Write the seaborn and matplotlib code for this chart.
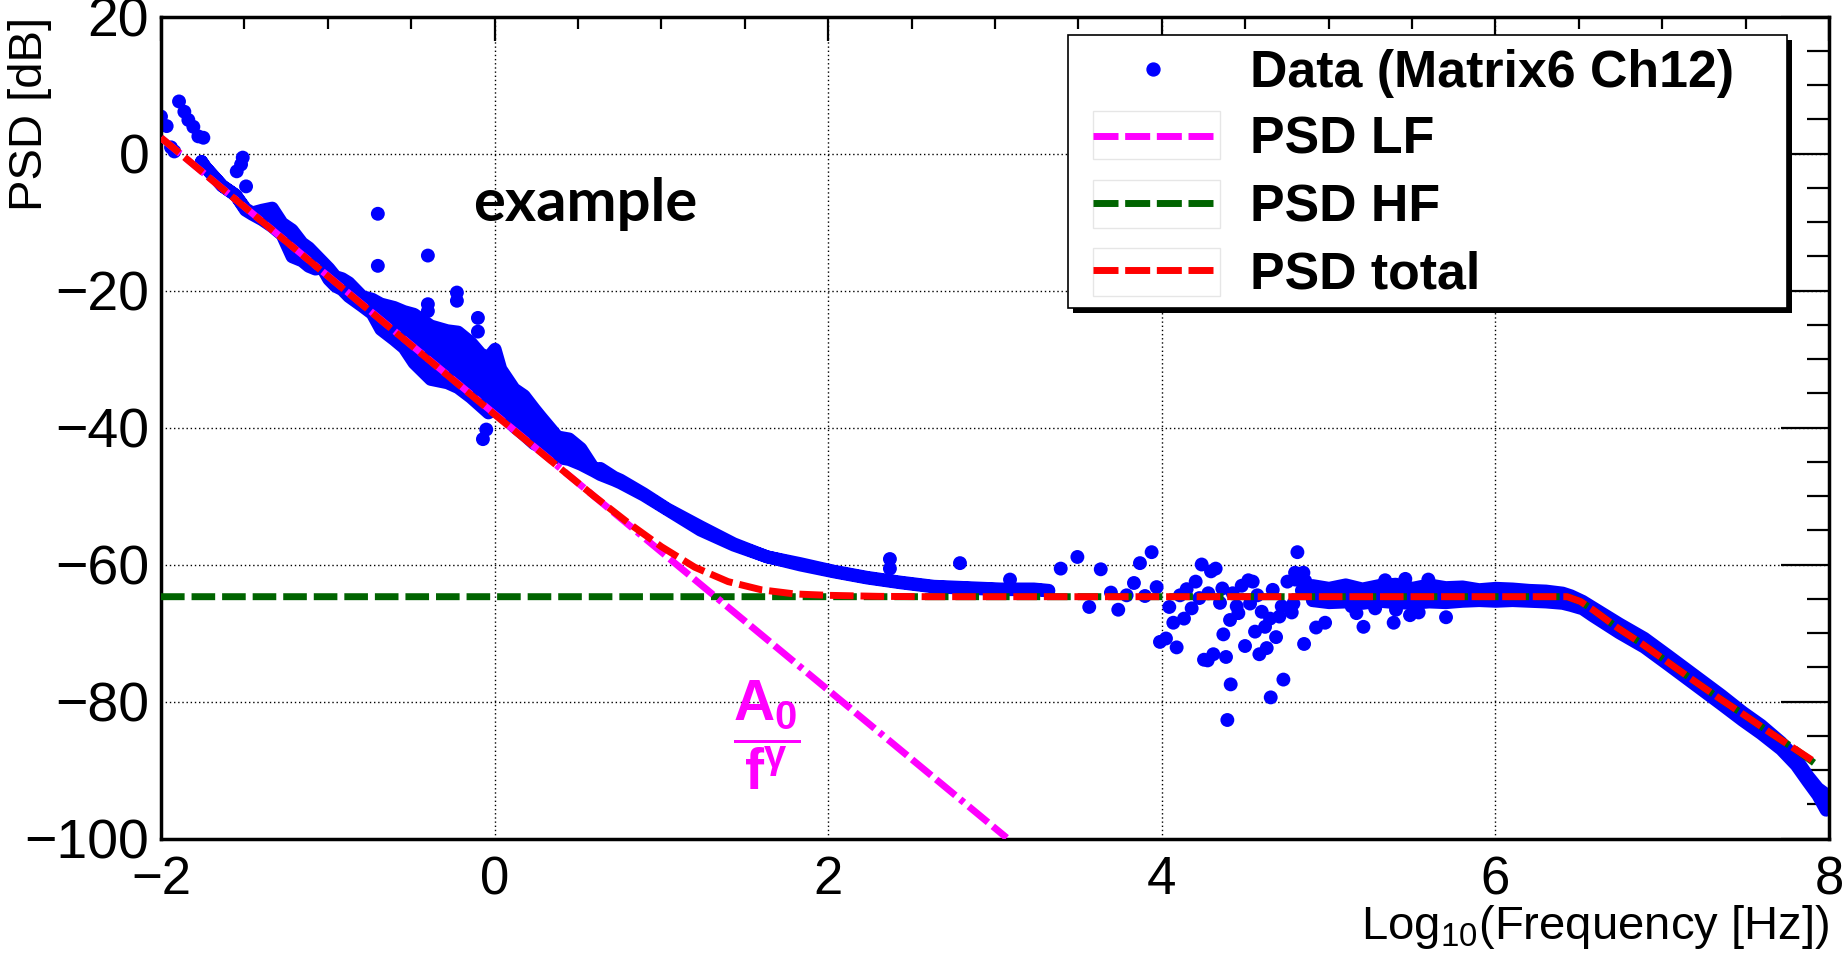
import matplotlib
matplotlib.use("Agg")
import matplotlib.pyplot as plt
import seaborn as sns
from matplotlib.lines import Line2D
from matplotlib.patches import Rectangle
from matplotlib.ticker import MultipleLocator

# ---------------- data ----------------
# Dense run of the spectrum at low frequency (upper / lower envelope of the point cloud)
band1_x = [-1.76, -1.736, -1.636, -1.556, -1.496, -1.456, -1.396, -1.336, -1.277, -1.217,
           -1.157, -1.117, -1.077, -1.037, -0.997, -0.957, -0.917, -0.877, -0.797, -0.737,
           -0.685, -0.605, -0.546, -0.486, -0.386, -0.286, -0.222, -0.146, -0.086, -0.04,
           0.0, 0.034, 0.114, 0.174, 0.234, 0.274, 0.374, 0.444, 0.514, 0.594,
           0.631, 0.714, 0.751, 0.891, 1.031, 1.231, 1.431, 1.630, 1.830, 2.030,
           2.230, 2.430, 2.63, 2.83, 3.03, 3.23, 3.32]
band1_hi = [-1.1, -1.95, -4.65, -6.0, -8.0, -8.6, -8.2, -7.9, -10.1, -11.1,
            -13.0, -13.7, -14.7, -15.7, -16.7, -17.9, -18.2, -18.8, -20.8, -21.2,
            -21.9, -22.4, -23.0, -23.4, -25.1, -25.8, -26.0, -27.5, -29.2, -29.7,
            -28.5, -31.4, -34.3, -35.3, -37.2, -38.4, -41.3, -41.6, -43.0, -46.0,
            -45.9, -47.2, -47.6, -49.6, -51.8, -54.4, -56.9, -58.8, -59.8, -60.9,
            -61.8, -62.5, -63.1, -63.3, -63.5, -63.5, -63.7]
band1_lo = [-1.1, -1.95, -4.65, -6.0, -8.2, -8.8, -9.6, -10.6, -11.8, -15.0,
            -15.6, -16.4, -16.8, -16.6, -18.3, -19.3, -19.8, -20.8, -22.2, -23.3,
            -25.6, -27.1, -28.3, -30.5, -32.9, -33.4, -34.1, -35.5, -36.8, -37.8,
            -37.2, -37.8, -39.8, -41.0, -42.3, -42.8, -44.3, -44.6, -45.3, -46.3,
            -46.8, -47.6, -48.0, -49.8, -51.9, -54.9, -57.1, -58.8, -60.0, -61.0,
            -61.9, -62.6, -63.2, -63.4, -63.6, -63.6, -63.8]

# Dense run at high frequency (plateau and roll-off)
band2_x = [4.90, 5.00, 5.10, 5.20, 5.30, 5.40, 5.50, 5.60, 5.70, 5.80, 5.90, 6.00, 6.10,
           6.20, 6.30, 6.40, 6.45, 6.52, 6.58, 6.74, 6.89, 7.03, 7.19, 7.35, 7.48, 7.59,
           7.71, 7.80, 7.87, 7.93, 7.98]
band2_hi = [-63.0, -63.4, -62.9, -63.5, -63.0, -62.8, -63.4, -62.9, -63.3, -63.2, -63.6,
            -63.4, -63.5, -63.7, -63.8, -64.1, -64.5, -65.3, -66.2, -68.6, -70.7, -73.2,
            -76.1, -79.0, -81.5, -83.4, -85.9, -88.3, -90.8, -92.6, -93.5]
band2_lo = [-65.2, -65.5, -65.4, -65.6, -65.3, -65.5, -65.6, -65.4, -65.5, -65.3, -65.2,
            -65.3, -65.2, -65.3, -65.4, -65.6, -65.9, -66.4, -67.4, -69.9, -72.0, -74.5,
            -77.4, -80.3, -82.7, -84.6, -86.9, -89.2, -91.6, -93.6, -95.8]

# Isolated measurement points
pts_x = [-2.00, -1.966, -1.94, -1.92, -1.892, -1.860, -1.836, -1.806, -1.776, -1.746,
         -1.51, -1.52, -1.546, -1.49, -0.70, -0.70, -0.40, -0.40, -0.40, -0.226,
         -0.226, -0.10, -0.10, -0.07, -0.05, 2.37, 2.37, 2.79, 3.09,
         3.394, 3.494, 3.634, 3.565, 3.695, 3.739, 3.789, 3.833, 3.869, 3.899,
         3.939, 3.969, 3.989, 4.025, 4.045, 4.069, 4.089, 4.109, 4.133, 4.149,
         4.179, 4.203, 4.239, 4.225, 4.253, 4.275, 4.309, 4.295, 4.323, 4.279,
         4.349, 4.363, 4.369, 4.385, 4.393, 4.413, 4.409, 4.425, 4.449, 4.459,
         4.479, 4.499, 4.519, 4.545, 4.529, 4.559, 4.573, 4.585, 4.599, 4.619,
         4.629, 4.653, 4.649, 4.665, 4.685, 4.705, 4.719, 4.729, 4.753, 4.779,
         4.789, 4.799, 4.813, 4.849, 4.853, 4.909, 4.925, 4.979,
         4.80, 4.82, 4.86, 4.84, 4.87,
         5.138, 5.167, 5.209, 5.279, 5.39, 5.404, 5.488, 5.54, 5.704, 5.339, 5.46, 5.598]
pts_y = [5.4, 4.0, 0.9, 0.3, 7.6, 6.1, 4.9, 3.9, 2.5, 2.3,
         -0.6, -1.6, -2.6, -4.8, -8.8, -16.4, -14.9, -22.0, -23.0, -20.3,
         -21.5, -24.0, -26.0, -41.7, -40.3, -59.2, -60.6, -59.8, -62.2,
         -60.6, -58.9, -60.7, -66.2, -64.1, -66.6, -64.5, -62.7, -59.8, -64.6,
         -58.2, -63.3, -71.3, -70.8, -66.2, -68.5, -72.1, -64.5, -67.9, -63.6,
         -66.4, -62.5, -60.0, -64.9, -73.9, -74.0, -73.1, -61.0, -60.6, -64.2,
         -65.6, -63.5, -70.2, -73.5, -82.7, -77.5, -68.1, -64.2, -66.1, -67.1,
         -63.1, -71.9, -62.3, -62.5, -65.7, -69.8, -64.5, -73.1, -66.9, -69.1,
         -72.2, -79.4, -67.9, -63.7, -70.6, -67.6, -66.1, -76.8, -62.5, -67.0,
         -65.7, -61.2, -58.2, -61.2, -71.6, -65.2, -69.2, -68.5,
         -62.2, -61.8, -62.4, -63.8, -64.2,
         -66.1, -67.1, -69.1, -66.4, -68.5, -66.6, -67.4, -67.0, -67.7, -62.3, -62.1, -62.2]

# Fitted components
lf_x = [-2.0, 3.07]
lf_y = [2.3, -99.9]
hf_x = [-2.0, 6.43, 6.51, 6.59, 6.73, 6.88, 7.03, 7.18, 7.34, 7.50, 7.65, 7.80, 7.93]
hf_y = [-64.7, -64.7, -65.4, -66.7, -69.2, -71.6, -74.2, -76.8, -79.5, -82.1, -84.6, -87.0, -89.3]
total_x = [-2.0, 0.0, 0.4, 0.6, 0.8, 1.0, 1.2, 1.4, 1.6, 1.8, 2.0, 2.3, 2.6, 6.43, 6.51,
           6.59, 6.73, 6.88, 7.03, 7.18, 7.34, 7.50, 7.65, 7.80, 7.90]
total_y = [2.3, -38.1, -46.1, -50.1, -53.9, -57.4, -60.4, -62.5, -63.7, -64.3, -64.5, -64.65,
           -64.7, -64.7, -65.4, -66.7, -69.2, -71.6, -74.2, -76.8, -79.5, -82.1, -84.6, -87.0,
           -88.6]

legend_labels = ["Data (Matrix6 Ch12)", "PSD LF", "PSD HF", "PSD total"]

# ---------------- style ----------------
sns.set_style("white")
plt.rcParams.update({
    "font.family": ["Liberation Sans", "DejaVu Sans"],
    "mathtext.fontset": "custom",
    "mathtext.rm": "Liberation Sans",
    "mathtext.it": "Liberation Sans:italic",
    "mathtext.bf": "Liberation Sans:bold",
    "axes.unicode_minus": True,
    "lines.scale_dashes": False,
    "text.color": "black",
    "axes.labelcolor": "black",
    "xtick.color": "black",
    "ytick.color": "black",
})

BLUE = "#0000ff"
MAGENTA = "#ff00ff"
GREEN = "#006400"
RED = "#ff0000"
MS = 10.0     # marker diameter, pt
LW = 5.0      # fit line width, pt
DASH = (17, 5)
DASHDOT = (18, 4.5, 18, 4.5, 18, 4.5, 3.5, 4.5)

W, H = 1844, 961
fig = plt.figure(figsize=(W / 100, H / 100), dpi=100)
ax = fig.add_axes([161 / W, 1 - 838.5 / H, 1668 / W, 822 / H])

# measured spectrum
for bx, lo, hi in [(band1_x, band1_lo, band1_hi), (band2_x, band2_lo, band2_hi)]:
    ax.fill_between(bx, lo, hi, facecolor=BLUE, edgecolor=BLUE, linewidth=9.3,
                    joinstyle="round", zorder=2)
sns.scatterplot(x=pts_x, y=pts_y, s=MS ** 2, color=BLUE, edgecolor="none",
                linewidth=0, ax=ax, zorder=2)


def fit_line(x, y, color, dashes, z):
    sns.lineplot(x=x, y=y, color=color, lw=LW, ax=ax, estimator=None, sort=False, zorder=z)
    ln = ax.lines[-1]
    ln.set_dashes(dashes)
    ln.set_dash_capstyle("butt")


fit_line(hf_x, hf_y, GREEN, DASH, 3)
fit_line(lf_x, lf_y, MAGENTA, DASHDOT, 4)
fit_line(total_x, total_y, RED, DASH, 5)

# annotations
ax.text(-0.129, -9.81, "example", family=["Lato", "DejaVu Sans"], fontweight="bold",
        fontsize=43, color="black", ha="left", va="baseline", zorder=6)
ax.text(1.63, -85.0, r"$\mathbf{\dfrac{A_0}{f^{\gamma}}}$", color=MAGENTA, fontsize=41,
        ha="center", va="center", zorder=6)

# axes
ax.set_xlim(-2, 8)
ax.set_ylim(-100, 20)
ax.xaxis.set_major_locator(MultipleLocator(2))
ax.xaxis.set_minor_locator(MultipleLocator(0.5))
ax.yaxis.set_major_locator(MultipleLocator(20))
ax.yaxis.set_minor_locator(MultipleLocator(5))
ax.tick_params(axis="both", which="both", direction="in", top=True, right=True,
               width=1.6, color="black", labelcolor="black")
ax.tick_params(axis="x", which="major", length=17, pad=12, labelsize=38)
ax.tick_params(axis="x", which="minor", length=8.6)
ax.tick_params(axis="y", which="major", length=34.5, pad=8.5, labelsize=40)
ax.tick_params(axis="y", which="minor", length=16)
for sp in ax.spines.values():
    sp.set_color("black")
    sp.set_linewidth(2.5)
ax.grid(True, which="major", color="black", linestyle=(0, (1, 2)), linewidth=1.0)
ax.set_axisbelow(True)

ax.set_xlabel(r"Log$_{10}$(Frequency [Hz])", fontsize=34, loc="right")
ax.xaxis.set_label_coords(1.0, -0.0785)
ax.set_ylabel("PSD [dB]", fontsize=34, loc="top")
ax.yaxis.set_label_coords(-0.0656, 1.0)

# legend box with solid drop shadow
bx0, by0, bw, bh = 1068, 35, 719, 273
fig.add_artist(Rectangle(((bx0 + 5) / W, 1 - (by0 + bh + 5) / H), bw / W, bh / H,
                         transform=fig.transFigure, facecolor="black", edgecolor="none",
                         zorder=4.9))
fig.add_artist(Rectangle((bx0 / W, 1 - (by0 + bh) / H), bw / W, bh / H,
                         transform=fig.transFigure, facecolor="white", edgecolor="black",
                         linewidth=1.2, zorder=5))
for cy in (135, 203.5, 271.7):
    fig.add_artist(Rectangle((1093 / W, 1 - (cy + 24) / H), 127 / W, 48 / H,
                             transform=fig.transFigure, facecolor="none",
                             edgecolor="#e6e6e6", linewidth=1.0, zorder=5.1))

handles = [
    Line2D([], [], ls="none", marker="o", ms=9.3, color=BLUE, mec=BLUE),
    Line2D([], [], color=MAGENTA, lw=LW, dashes=(18, 4.8)),
    Line2D([], [], color=GREEN, lw=LW, dashes=(18, 4.8)),
    Line2D([], [], color=RED, lw=LW, dashes=(18, 4.8)),
]
leg = fig.legend(handles, legend_labels, loc="center left",
                 bbox_to_anchor=(1093 / W, 1 - 174.0 / H), frameon=False,
                 prop=dict(family="Liberation Sans", weight="bold", size=37.4),
                 handlelength=2.31, handletextpad=0.71, labelspacing=0.35,
                 borderpad=0, borderaxespad=0)
leg.set_zorder(6)

fig.savefig("out.png", dpi=100)
